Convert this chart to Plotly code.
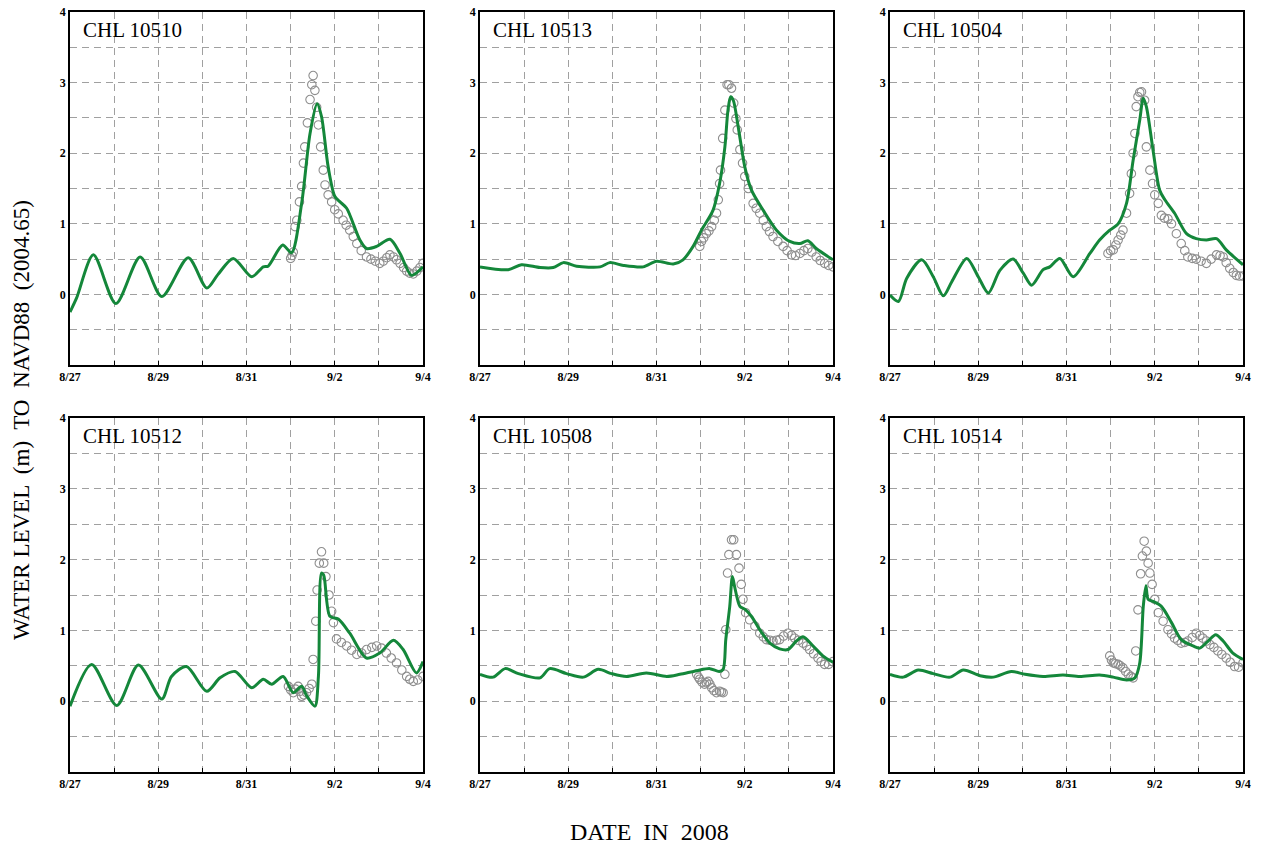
import plotly.graph_objects as go

# time in days since 8/27 00:00
stations = ["CHL 10510", "CHL 10513", "CHL 10504", "CHL 10512", "CHL 10508", "CHL 10514"]

model_t_10510 = [0, 0.15, 0.53, 1.04, 1.59, 2.08, 2.68, 3.10, 3.35, 3.70, 4.12, 4.38, 4.49, 4.82, 5.02, 5.25, 5.44, 5.60, 5.70, 5.85, 6.00, 6.12, 6.27, 6.57, 6.72, 6.95, 7.25, 7.48, 7.74, 8.0]
model_v_10510 = [-0.25, -0.05, 0.56, -0.13, 0.53, -0.03, 0.52, 0.09, 0.28, 0.51, 0.25, 0.39, 0.40, 0.70, 0.59, 1.29, 2.28, 2.70, 2.52, 1.81, 1.39, 1.31, 1.22, 0.77, 0.65, 0.68, 0.78, 0.58, 0.27, 0.39]
obs_t_10510 = [5.0, 5.03, 5.06, 5.1, 5.14, 5.2, 5.25, 5.29, 5.32, 5.38, 5.44, 5.48, 5.51, 5.55, 5.59, 5.63, 5.68, 5.74, 5.78, 5.85, 5.93, 6.0, 6.08, 6.19, 6.26, 6.34, 6.42, 6.5, 6.6, 6.72, 6.82, 6.92, 7.02, 7.1, 7.18, 7.25, 7.33, 7.4, 7.48, 7.56, 7.63, 7.7, 7.78, 7.86, 7.93, 8.0]
obs_v_10510 = [0.51, 0.55, 0.6, 0.96, 1.05, 1.31, 1.53, 1.86, 2.09, 2.43, 2.76, 2.97, 3.10, 2.89, 2.65, 2.40, 2.09, 1.76, 1.55, 1.41, 1.31, 1.20, 1.14, 1.05, 0.98, 0.91, 0.82, 0.72, 0.62, 0.53, 0.50, 0.47, 0.44, 0.47, 0.52, 0.56, 0.53, 0.49, 0.44, 0.38, 0.33, 0.30, 0.29, 0.33, 0.38, 0.44]

model_t_10513 = [0, 0.64, 0.94, 1.36, 1.66, 1.89, 2.19, 2.72, 2.94, 3.25, 3.70, 4.00, 4.38, 4.60, 4.83, 5.02, 5.28, 5.43, 5.55, 5.62, 5.68, 5.74, 5.85, 6.00, 6.15, 6.42, 6.72, 7.02, 7.25, 7.43, 7.62, 8.0]
model_v_10513 = [0.39, 0.35, 0.42, 0.38, 0.38, 0.45, 0.40, 0.39, 0.45, 0.41, 0.39, 0.47, 0.43, 0.49, 0.68, 0.91, 1.19, 1.57, 2.09, 2.61, 2.80, 2.75, 2.38, 1.81, 1.48, 1.19, 0.91, 0.75, 0.72, 0.76, 0.65, 0.49]
obs_t_10513 = [4.98, 5.02, 5.07, 5.13, 5.19, 5.25, 5.31, 5.36, 5.40, 5.43, 5.45, 5.50, 5.55, 5.60, 5.64, 5.70, 5.75, 5.80, 5.83, 5.89, 5.95, 6.00, 6.08, 6.19, 6.26, 6.34, 6.42, 6.49, 6.56, 6.64, 6.75, 6.87, 6.96, 7.06, 7.15, 7.25, 7.34, 7.43, 7.52, 7.62, 7.71, 7.81, 7.90, 8.0]
obs_v_10513 = [0.68, 0.75, 0.80, 0.86, 0.90, 0.96, 1.05, 1.15, 1.34, 1.57, 1.76, 2.21, 2.61, 2.97, 2.97, 2.92, 2.71, 2.49, 2.33, 2.05, 1.86, 1.67, 1.50, 1.29, 1.22, 1.15, 1.05, 0.96, 0.89, 0.82, 0.75, 0.68, 0.62, 0.56, 0.55, 0.58, 0.62, 0.65, 0.60, 0.53, 0.48, 0.44, 0.41, 0.39]

model_t_10504 = [0, 0.19, 0.38, 0.72, 0.98, 1.21, 1.40, 1.74, 2.00, 2.23, 2.49, 2.79, 3.02, 3.21, 3.47, 3.62, 3.85, 4.15, 4.53, 4.75, 4.98, 5.17, 5.36, 5.51, 5.66, 5.74, 5.81, 5.96, 6.11, 6.23, 6.45, 6.72, 6.94, 7.17, 7.40, 7.62, 8.0]
model_v_10504 = [-0.01, -0.10, 0.23, 0.49, 0.25, -0.02, 0.18, 0.51, 0.25, 0.02, 0.34, 0.50, 0.30, 0.13, 0.35, 0.39, 0.51, 0.25, 0.58, 0.77, 0.91, 1.00, 1.29, 1.90, 2.47, 2.78, 2.66, 2.05, 1.48, 1.34, 1.15, 0.86, 0.79, 0.77, 0.79, 0.63, 0.42]
obs_t_10504 = [4.94, 5.00, 5.06, 5.12, 5.17, 5.23, 5.28, 5.36, 5.43, 5.47, 5.51, 5.55, 5.58, 5.62, 5.66, 5.70, 5.77, 5.81, 5.89, 5.95, 6.00, 6.08, 6.15, 6.22, 6.30, 6.38, 6.49, 6.60, 6.68, 6.75, 6.85, 6.94, 7.05, 7.17, 7.28, 7.40, 7.48, 7.55, 7.62, 7.70, 7.78, 7.85, 7.92, 8.0]
obs_v_10504 = [0.58, 0.62, 0.63, 0.70, 0.77, 0.84, 0.91, 1.15, 1.43, 1.71, 2.00, 2.28, 2.66, 2.80, 2.86, 2.87, 2.75, 2.09, 1.76, 1.57, 1.41, 1.29, 1.12, 1.08, 1.07, 1.00, 0.86, 0.72, 0.62, 0.53, 0.51, 0.50, 0.47, 0.44, 0.50, 0.56, 0.55, 0.53, 0.45, 0.37, 0.31, 0.27, 0.26, 0.26]

model_t_10512 = [0, 0.49, 1.06, 1.55, 2.08, 2.30, 2.64, 3.10, 3.40, 3.74, 4.12, 4.38, 4.57, 4.83, 5.06, 5.25, 5.36, 5.55, 5.63, 5.70, 5.75, 5.89, 6.08, 6.34, 6.72, 7.02, 7.33, 7.55, 7.85, 8.0]
model_v_10512 = [-0.07, 0.52, -0.06, 0.51, 0.03, 0.35, 0.49, 0.14, 0.33, 0.42, 0.19, 0.31, 0.24, 0.35, 0.12, 0.21, 0.08, -0.07, 0.35, 1.81, 1.78, 1.20, 1.16, 0.96, 0.61, 0.68, 0.86, 0.73, 0.40, 0.56]
obs_t_10512 = [4.95, 5.00, 5.06, 5.11, 5.17, 5.21, 5.25, 5.30, 5.36, 5.42, 5.48, 5.51, 5.57, 5.60, 5.65, 5.70, 5.75, 5.80, 5.87, 5.93, 5.97, 6.04, 6.15, 6.27, 6.38, 6.50, 6.61, 6.72, 6.84, 6.95, 7.06, 7.17, 7.28, 7.40, 7.52, 7.63, 7.70, 7.78, 7.88, 8.0]
obs_v_10512 = [0.21, 0.16, 0.12, 0.17, 0.21, 0.14, 0.07, 0.09, 0.12, 0.18, 0.24, 0.59, 1.13, 1.57, 1.95, 2.11, 1.95, 1.76, 1.50, 1.27, 1.11, 0.88, 0.83, 0.78, 0.72, 0.66, 0.68, 0.73, 0.76, 0.78, 0.75, 0.68, 0.61, 0.54, 0.44, 0.35, 0.31, 0.28, 0.30, 0.35]

model_t_10508 = [0, 0.30, 0.57, 0.87, 1.36, 1.58, 1.96, 2.34, 2.68, 2.98, 3.32, 3.77, 4.23, 4.53, 4.91, 5.21, 5.42, 5.51, 5.57, 5.66, 5.72, 5.77, 5.89, 6.00, 6.15, 6.34, 6.57, 6.79, 6.98, 7.17, 7.32, 7.55, 7.77, 8.0]
model_v_10508 = [0.38, 0.34, 0.46, 0.39, 0.33, 0.46, 0.39, 0.34, 0.45, 0.39, 0.35, 0.40, 0.35, 0.38, 0.43, 0.46, 0.42, 0.45, 0.87, 1.34, 1.76, 1.62, 1.34, 1.30, 1.20, 1.01, 0.82, 0.74, 0.73, 0.85, 0.91, 0.78, 0.64, 0.55]
obs_t_10508 = [4.91, 4.95, 4.98, 5.03, 5.09, 5.13, 5.17, 5.21, 5.25, 5.30, 5.36, 5.43, 5.47, 5.51, 5.55, 5.57, 5.61, 5.64, 5.70, 5.75, 5.81, 5.87, 5.92, 5.96, 6.02, 6.11, 6.23, 6.34, 6.42, 6.49, 6.57, 6.64, 6.72, 6.79, 6.88, 6.98, 7.06, 7.13, 7.22, 7.32, 7.40, 7.47, 7.56, 7.66, 7.73, 7.81, 7.90, 8.0]
obs_v_10508 = [0.38, 0.34, 0.31, 0.27, 0.24, 0.26, 0.28, 0.24, 0.19, 0.15, 0.12, 0.14, 0.13, 0.12, 0.38, 1.01, 1.81, 2.07, 2.28, 2.28, 2.07, 1.88, 1.65, 1.44, 1.25, 1.15, 1.06, 0.96, 0.91, 0.87, 0.86, 0.85, 0.86, 0.87, 0.92, 0.96, 0.93, 0.89, 0.86, 0.82, 0.78, 0.73, 0.67, 0.61, 0.56, 0.52, 0.52, 0.56]

model_t_10514 = [0, 0.30, 0.64, 0.98, 1.36, 1.66, 2.04, 2.34, 2.75, 3.06, 3.47, 3.92, 4.30, 4.75, 5.06, 5.36, 5.55, 5.66, 5.74, 5.80, 5.85, 5.96, 6.15, 6.38, 6.60, 6.87, 7.02, 7.21, 7.38, 7.55, 7.77, 8.0]
model_v_10514 = [0.38, 0.34, 0.44, 0.39, 0.34, 0.44, 0.36, 0.34, 0.42, 0.38, 0.35, 0.37, 0.35, 0.37, 0.34, 0.30, 0.33, 0.54, 1.34, 1.63, 1.44, 1.41, 1.34, 1.11, 0.87, 0.78, 0.75, 0.85, 0.94, 0.85, 0.68, 0.59]
obs_t_10514 = [4.98, 5.02, 5.06, 5.11, 5.17, 5.22, 5.28, 5.34, 5.40, 5.46, 5.51, 5.57, 5.62, 5.68, 5.72, 5.76, 5.81, 5.85, 5.89, 5.94, 6.00, 6.08, 6.19, 6.30, 6.38, 6.45, 6.52, 6.60, 6.68, 6.75, 6.85, 6.94, 7.02, 7.09, 7.17, 7.25, 7.34, 7.43, 7.52, 7.62, 7.71, 7.81, 7.90, 8.0]
obs_v_10514 = [0.64, 0.58, 0.54, 0.53, 0.52, 0.50, 0.47, 0.42, 0.38, 0.35, 0.33, 0.71, 1.29, 1.80, 2.05, 2.26, 2.12, 1.95, 1.81, 1.65, 1.44, 1.25, 1.13, 1.01, 0.95, 0.89, 0.86, 0.82, 0.83, 0.85, 0.90, 0.96, 0.93, 0.89, 0.85, 0.80, 0.76, 0.71, 0.66, 0.61, 0.55, 0.49, 0.48, 0.54]

model_t = [model_t_10510, model_t_10513, model_t_10504, model_t_10512, model_t_10508, model_t_10514]
model_v = [model_v_10510, model_v_10513, model_v_10504, model_v_10512, model_v_10508, model_v_10514]
obs_t = [obs_t_10510, obs_t_10513, obs_t_10504, obs_t_10512, obs_t_10508, obs_t_10514]
obs_v = [obs_v_10510, obs_v_10513, obs_v_10504, obs_v_10512, obs_v_10508, obs_v_10514]

x_tickvals = [0, 1, 2, 3, 4, 5, 6, 7, 8]
x_ticktext = ["8/27", "", "8/29", "", "8/31", "", "9/2", "", "9/4"]
y_tickvals = [-1, -0.5, 0, 0.5, 1, 1.5, 2, 2.5, 3, 3.5, 4]
y_ticktext = ["", "", "0", "", "1", "", "2", "", "3", "", "4"]

W, H = 1263, 847
col_px = [(70, 423), (480, 833), (890, 1243)]
row_px = [(12, 365), (418, 772)]

SERIF = "Liberation Serif"
GREEN = "#14873a"
GRAY = "#8e8e8e"
GRID = "#a0a0a0"

fig = go.Figure()
layout = {}
for i in range(6):
    r, c = divmod(i, 3)
    n = "" if i == 0 else str(i + 1)
    xa, ya = "x" + n, "y" + n
    fig.add_trace(go.Scatter(
        x=obs_t[i], y=obs_v[i], mode="markers", xaxis=xa, yaxis=ya,
        marker=dict(symbol="circle-open", size=8.5, color=GRAY, line=dict(width=1.1, color=GRAY)),
        showlegend=False, hoverinfo="skip"))
    fig.add_trace(go.Scatter(
        x=model_t[i], y=model_v[i], mode="lines", xaxis=xa, yaxis=ya,
        line=dict(color=GREEN, width=3, shape="spline", smoothing=0.8),
        showlegend=False, hoverinfo="skip"))
    x0, x1 = col_px[c]
    y0, y1 = row_px[r]
    layout["xaxis" + n] = dict(
        domain=[x0 / W, x1 / W], anchor=ya, range=[0, 8],
        tickvals=x_tickvals, ticktext=x_ticktext,
        showgrid=True, gridcolor=GRID, griddash="7px,5px", gridwidth=1.2,
        showline=True, linecolor="black", linewidth=1.5, mirror=True,
        ticks="inside", ticklen=4, tickcolor="black",
        tickfont=dict(family=SERIF, size=12, color="black", weight="bold"),
        zeroline=False, automargin=False)
    layout["yaxis" + n] = dict(
        domain=[1 - y1 / H, 1 - y0 / H], anchor=xa, range=[-1, 4],
        tickvals=y_tickvals, ticktext=y_ticktext,
        showgrid=True, gridcolor=GRID, griddash="7px,5px", gridwidth=1.2,
        showline=True, linecolor="black", linewidth=1.5, mirror=True,
        ticks="", tickfont=dict(family=SERIF, size=12, color="black", weight="bold"),
        zeroline=False, automargin=False)

annotations = []
for i in range(6):
    n = "" if i == 0 else str(i + 1)
    annotations.append(dict(
        text=stations[i], xref="x" + n + " domain", yref="y" + n + " domain",
        x=0.03, y=0.99, xanchor="left", yanchor="top", showarrow=False,
        font=dict(family=SERIF, size=21, color="black")))
annotations.append(dict(
    text="WATER LEVEL  (m)  TO  NAVD88  (2004.65)", xref="paper", yref="paper",
    x=21 / W, y=1 - 420 / H, textangle=-90, showarrow=False,
    xanchor="center", yanchor="middle",
    font=dict(family=SERIF, size=23, color="black")))
annotations.append(dict(
    text="DATE  IN  2008", xref="paper", yref="paper",
    x=649 / W, y=1 - 832 / H, showarrow=False, xanchor="center", yanchor="middle",
    font=dict(family=SERIF, size=24, color="black")))

fig.update_layout(
    width=W, height=H, margin=dict(l=0, r=0, t=0, b=0),
    paper_bgcolor="white", plot_bgcolor="white",
    annotations=annotations, **layout)

fig.write_html("out.html", config={"displayModeBar": False},
               post_script="document.body.style.margin='0px';document.body.style.padding='0px';")
